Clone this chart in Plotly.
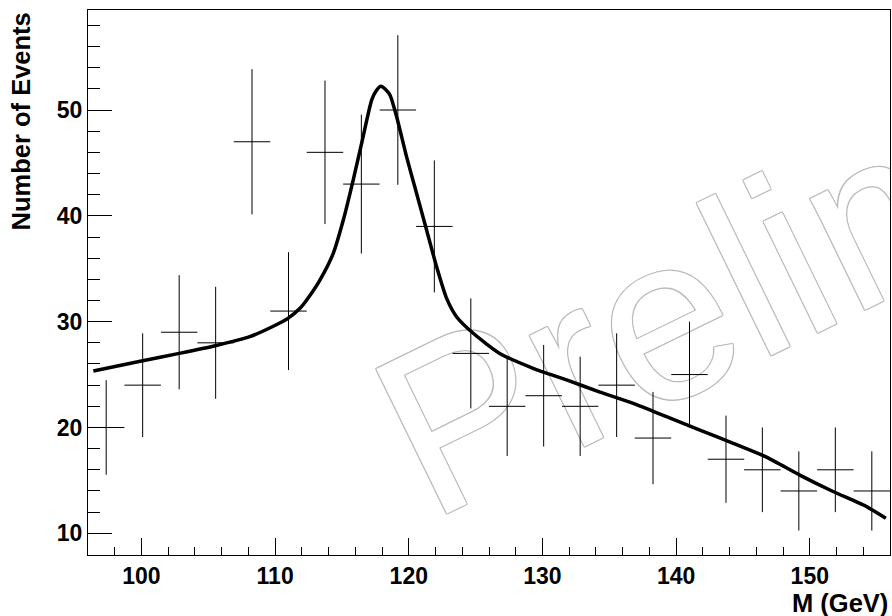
import plotly.graph_objects as go

# Histogram bins (centres), counts and their error bars
bin_centers = [97.36, 100.09, 102.82, 105.55, 108.27, 111.0, 113.73, 116.45, 119.18, 121.91,
               124.64, 127.36, 130.09, 132.82, 135.55, 138.27, 141.0, 143.73, 146.45, 149.18,
               151.91, 154.64]
counts = [20, 24, 29, 28, 47, 31, 46, 43, 50, 39, 27, 22, 23, 22, 24, 19, 25, 17, 16, 14, 16, 14]
count_err = [4.47, 4.90, 5.39, 5.29, 6.86, 5.57, 6.78, 6.56, 7.07, 6.24, 5.20, 4.69, 4.80, 4.69,
             4.90, 4.36, 5.00, 4.12, 4.00, 3.74, 4.00, 3.74]
half_width = [1.364] * len(bin_centers)

# Fitted curve, points
fit_x = [96.4, 100.0, 102.83, 105.52, 108.1, 109.9, 110.96, 111.86, 112.36, 113.35, 114.35,
         115.1, 115.84, 116.47, 117.22, 117.55, 117.9, 118.3, 118.6, 119.09, 119.83, 120.58,
         121.33, 122.08, 122.83, 123.57, 124.82, 126.8, 129.3, 131.8, 134.3, 136.79, 139.28,
         141.78, 144.27, 146.76, 149.25, 151.74, 154.2, 155.69]
fit_y = [25.34, 26.28, 27.0, 27.73, 28.58, 29.59, 30.31, 31.26, 32.05, 33.93, 36.46,
         39.6, 43.38, 46.85, 50.94, 51.8, 52.25, 51.9, 51.4, 49.37, 45.6, 42.13,
         38.66, 35.19, 32.2, 30.47, 28.9, 27.0, 25.59, 24.49, 23.35, 22.28, 21.02,
         19.76, 18.5, 17.2, 15.5, 13.95, 12.55, 11.42]

x_range = [96, 156]
y_range = [7.95, 59.45]

fig = go.Figure()

fig.add_trace(go.Scatter(
    x=bin_centers, y=counts, mode="markers",
    marker=dict(size=0.1, color="black"),
    error_y=dict(type="data", array=count_err, visible=True, color="black", thickness=1, width=0),
    error_x=dict(type="data", array=half_width, visible=True, color="black", thickness=1, width=0),
    showlegend=False, hoverinfo="skip",
))

fig.add_trace(go.Scatter(
    x=fit_x, y=fit_y, mode="lines",
    line=dict(color="black", width=3.5, shape="spline", smoothing=0.6),
    showlegend=False, hoverinfo="skip",
))

# "Preliminary" watermark, outlined grey text drawn beneath the data
outline = "#bcbcbc"
shadow = ", ".join(f"{dx}px {dy}px 0 {outline}" for dx, dy in
                   [(1, 0), (-1, 0), (0, 1), (0, -1), (1, 1), (-1, -1), (1, -1), (-1, 1)])
fig.add_shape(
    type="rect", xref="x", yref="y",
    x0=157.0, x1=158.06, y0=43.56, y1=44.56,
    line=dict(width=0), fillcolor="rgba(0,0,0,0)", layer="below",
    label=dict(
        text="Preliminary", textposition="middle center", textangle=-26,
        font=dict(family="Liberation Sans", size=234, color="white", shadow=shadow),
    ),
)

tick_font = dict(family="Liberation Sans", size=23, color="black", weight="bold")

fig.update_xaxes(
    range=x_range, showgrid=False, zeroline=False,
    showline=True, linecolor="black", linewidth=1, mirror=True,
    ticks="inside", ticklen=17, tickwidth=1, tickcolor="black",
    tick0=100, dtick=10, tickfont=tick_font,
    minor=dict(ticks="inside", ticklen=8, dtick=2, tick0=100, tickcolor="black", tickwidth=1),
)
fig.update_yaxes(
    range=y_range, showgrid=False, zeroline=False,
    showline=True, linecolor="black", linewidth=1, mirror=True,
    ticks="inside", ticklen=24, tickwidth=1, tickcolor="black",
    tick0=10, dtick=10, tickfont=tick_font,
    minor=dict(ticks="inside", ticklen=12, dtick=2, tick0=10, tickcolor="black", tickwidth=1),
)

title_font = dict(family="Liberation Sans", size=25.5, color="black", weight="bold")

fig.add_annotation(
    text="Number of Events", xref="paper", yref="paper",
    x=-0.083, y=1.0, xanchor="center", yanchor="top", textangle=-90,
    showarrow=False, font=title_font,
)
fig.add_annotation(
    text="M (GeV)", xref="paper", yref="paper",
    x=1.0, y=-0.0587, xanchor="right", yanchor="top",
    showarrow=False, font=title_font,
)

fig.update_layout(
    width=892, height=616,
    margin=dict(l=88, r=2, t=10, b=61),
    plot_bgcolor="white", paper_bgcolor="white",
    showlegend=False,
)

fig.write_html("out.html")
